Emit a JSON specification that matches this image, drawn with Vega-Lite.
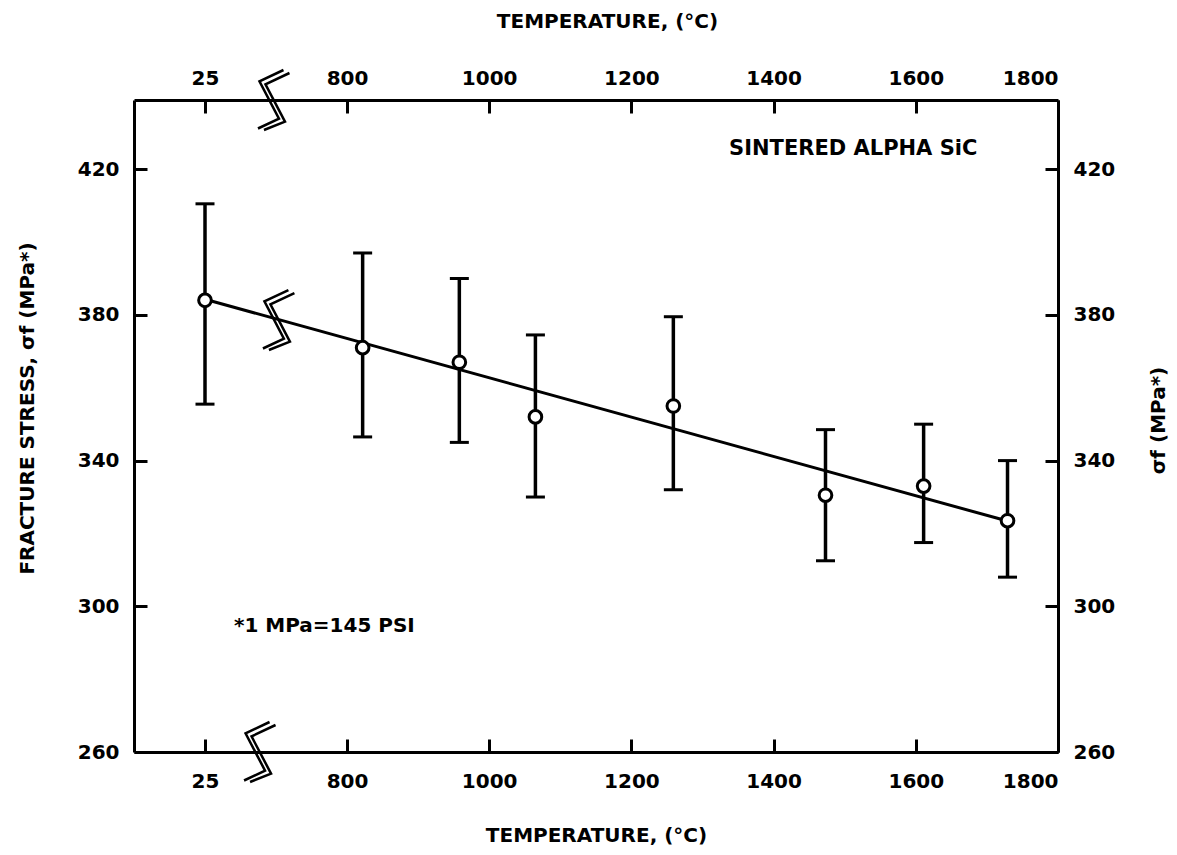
{
  "$schema": "https://vega.github.io/schema/vega-lite/v6.json",
  "width": 924,
  "height": 652,
  "autosize": {"type": "none"},
  "padding": {"left": 134, "top": 100, "right": 119, "bottom": 103},
  "background": "white",
  "config": {
    "font": "DejaVu Sans",
    "view": {"stroke": null},
    "axis": {
      "grid": false,
      "domainColor": "black",
      "domainWidth": 3,
      "tickColor": "black",
      "tickWidth": 3,
      "tickSize": -13,
      "labelFont": "DejaVu Sans",
      "labelFontWeight": "bold",
      "labelFontSize": 20,
      "labelColor": "black",
      "titleFont": "DejaVu Sans",
      "titleFontWeight": "bold",
      "titleFontSize": 20,
      "titleColor": "black"
    }
  },
  "datasets": {
    "strength": [
      {"temp": 25, "stress": 384, "low": 355.5, "high": 410.5},
      {"temp": 822, "stress": 371, "low": 346.5, "high": 397},
      {"temp": 958, "stress": 367, "low": 345, "high": 390},
      {"temp": 1065, "stress": 352, "low": 330, "high": 374.5},
      {"temp": 1259, "stress": 355, "low": 332, "high": 379.5},
      {"temp": 1473, "stress": 330.5, "low": 312.5, "high": 348.5},
      {"temp": 1611, "stress": 333, "low": 317.5, "high": 350},
      {"temp": 1729, "stress": 323.5, "low": 308, "high": 340}
    ],
    "fit": [
      {"temp": 25, "stress": 384.3},
      {"temp": 1729, "stress": 323.4}
    ],
    "breaks": [
      {"temp": 396, "stress": 439},
      {"temp": 320, "stress": 260},
      {"temp": 423, "stress": 378.6}
    ]
  },
  "layer": [
    {
      "data": {"name": "strength"},
      "mark": {"type": "rule", "color": "black", "strokeWidth": 3.5},
      "encoding": {
        "x": {
          "field": "temp", "type": "quantitative",
          "scale": {"domain": [-75, 25, 800, 1800], "range": [0, 71, 213, 924], "nice": false, "zero": false},
          "axis": {
            "orient": "bottom", "values": [25, 800, 1000, 1200, 1400, 1600, 1800], "format": "d",
            "labelPadding": 32, "title": "TEMPERATURE, (°C)",
            "titleX": 462, "titleY": 83, "titleBaseline": "middle", "titleAlign": "center"
          }
        },
        "y": {
          "field": "low", "type": "quantitative",
          "scale": {"domain": [260, 439], "nice": false, "zero": false},
          "axis": {
            "orient": "left", "values": [260, 300, 340, 380, 420],
            "labelPadding": 28, "title": "FRACTURE STRESS, σf (MPa*)",
            "titleAngle": 270, "titleX": -107, "titleY": 308, "titleBaseline": "middle", "titleAlign": "center"
          }
        },
        "y2": {"field": "high"}
      }
    },
    {
      "data": {"name": "strength"},
      "mark": {"type": "tick", "orient": "horizontal", "color": "black", "size": 19, "thickness": 3, "opacity": 1},
      "encoding": {
        "x": {
          "field": "temp", "type": "quantitative",
          "scale": {"domain": [-75, 25, 800, 1800], "range": [0, 71, 213, 924], "nice": false, "zero": false},
          "axis": {
            "orient": "top", "values": [25, 800, 1000, 1200, 1400, 1600, 1800], "format": "d",
            "labelPadding": 25, "title": "TEMPERATURE, (°C)",
            "titleX": 473, "titleY": -79, "titleBaseline": "middle", "titleAlign": "center"
          }
        },
        "y": {
          "field": "low", "type": "quantitative",
          "scale": {"domain": [260, 439], "nice": false, "zero": false},
          "axis": {
            "orient": "right", "values": [260, 300, 340, 380, 420],
            "labelPadding": 28, "title": "σf (MPa*)",
            "titleAngle": 270, "titleX": 100, "titleY": 320, "titleBaseline": "middle", "titleAlign": "center"
          }
        }
      }
    },
    {
      "data": {"name": "strength"},
      "mark": {"type": "tick", "orient": "horizontal", "color": "black", "size": 19, "thickness": 3, "opacity": 1},
      "encoding": {
        "x": {"field": "temp", "type": "quantitative", "axis": null},
        "y": {"field": "high", "type": "quantitative", "axis": null}
      }
    },
    {
      "data": {"name": "fit"},
      "mark": {"type": "line", "color": "black", "strokeWidth": 3},
      "encoding": {
        "x": {"field": "temp", "type": "quantitative", "axis": null},
        "y": {"field": "stress", "type": "quantitative", "axis": null}
      }
    },
    {
      "data": {"name": "strength"},
      "mark": {"type": "point", "shape": "circle", "size": 160, "fill": "white", "stroke": "black", "strokeWidth": 3, "opacity": 1, "filled": false},
      "encoding": {
        "x": {"field": "temp", "type": "quantitative", "axis": null},
        "y": {"field": "stress", "type": "quantitative", "axis": null}
      }
    },
    {
      "data": {"name": "breaks"},
      "mark": {
        "type": "point",
        "shape": "M0.35,-1L-0.45,-0.62L0.2,0.62L-0.5,0.95M0.55,-0.9L-0.25,-0.52L0.4,0.72L-0.3,1",
        "size": 3600, "filled": false, "stroke": "black", "strokeWidth": 2.5, "opacity": 1
      },
      "encoding": {
        "x": {"field": "temp", "type": "quantitative", "axis": null},
        "y": {"field": "stress", "type": "quantitative", "axis": null}
      }
    },
    {
      "data": {"values": [{"note": "SINTERED ALPHA SiC"}]},
      "mark": {"type": "text", "font": "DejaVu Sans", "fontWeight": "bold", "fontSize": 21, "color": "black", "align": "center", "baseline": "middle"},
      "encoding": {
        "x": {"datum": 1512, "type": "quantitative", "axis": null},
        "y": {"datum": 425.5, "type": "quantitative", "axis": null},
        "text": {"field": "note"}
      }
    },
    {
      "data": {"values": [{"note": "*1 MPa=145 PSI"}]},
      "mark": {"type": "text", "font": "DejaVu Sans", "fontWeight": "bold", "fontSize": 20, "color": "black", "align": "left", "baseline": "middle"},
      "encoding": {
        "x": {"datum": 183, "type": "quantitative", "axis": null},
        "y": {"datum": 294.5, "type": "quantitative", "axis": null},
        "text": {"field": "note"}
      }
    }
  ],
  "resolve": {"axis": {"x": "independent", "y": "independent"}}
}
